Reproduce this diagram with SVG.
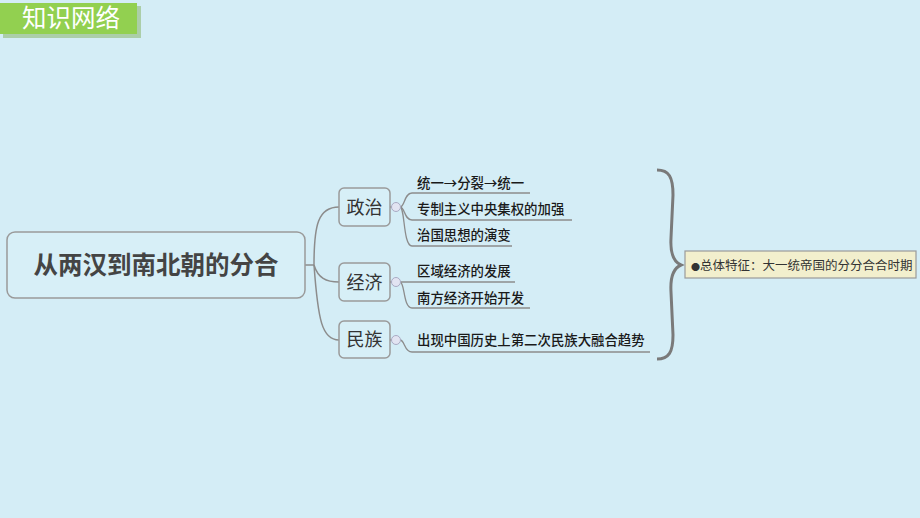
<svg xmlns="http://www.w3.org/2000/svg" width="920" height="518" viewBox="0 0 920 518">
<style>
.bg{fill:#d4edf6}
.box{fill:#d7eff7;stroke:#9a9a9a;stroke-width:1.5}
.conn{fill:none;stroke:#8c8c8c;stroke-width:1.5}
.ul{fill:none;stroke:#8c8c8c;stroke-width:1.3}
.dot{fill:#e2e4f2;stroke:#a9abc4;stroke-width:1}
.cn{font-family:"Noto Sans CJK SC","Noto Sans",sans-serif}
.leaf{font-size:13.4px;fill:#1a1a1a;font-weight:500}
.br{font-size:18px;fill:#333;text-anchor:middle}
</style>
<rect class="bg" x="0" y="0" width="920" height="518"/>
<g id="title">
<rect x="3" y="6" width="138" height="32" fill="#7aa84a" opacity="0.45"/>
<rect x="0" y="3" width="137" height="31" fill="#92d050"/>
<text class="cn" x="71" y="27" font-size="24.5" fill="#ffffff" text-anchor="middle">知识网络</text>
</g>
<g id="connectors">
<path class="conn" d="M305,265 L314,265"/>
<path class="conn" d="M314,265 C314,225 318,207 339,207"/>
<path class="conn" d="M314,265 C318,278 326,282 339,282"/>
<path class="conn" d="M314,265 C318,320 322,340 339,340"/>
<path class="conn" d="M390,207 L392,207"/>
<path class="conn" d="M390,282 L392,282"/>
<path class="conn" d="M390,340 L392,340"/>
<path class="ul" d="M400,207 C405,207 404,193 412,193 L530,193"/>
<path class="ul" d="M400,207 C405,207 404,220 412,220 L572,220"/>
<path class="ul" d="M400,207 C405,207 403,246 412,246 L512,246"/>
<path class="ul" d="M400,282 L515,282"/>
<path class="ul" d="M400,282 C405,282 403,308 412,308 L530,308"/>
<path class="ul" d="M400,340 C405,340 404,352 412,352 L650,352"/>
<path d="M657,170 C669,170 673,177 673,195 L671,238 C670,255 674,262 681,265 C674,268 670,275 671,292 L673,335 C673,352 669,359 657,359" fill="none" stroke="#7a7a7a" stroke-width="3"/>
</g>
<g id="root">
<rect class="box" x="7" y="232" width="298" height="66" rx="8"/>
<text class="cn" x="156" y="274" font-size="24.5" font-weight="bold" fill="#444" text-anchor="middle">从两汉到南北朝的分合</text>
</g>
<g id="zhengzhi">
<rect class="box" x="339" y="188" width="51" height="38" rx="5"/>
<text class="cn br" x="364.5" y="213.5">政治</text>
<circle class="dot" cx="396" cy="207" r="4.5"/>
</g>
<g id="jingji">
<rect class="box" x="339" y="263" width="51" height="38" rx="5"/>
<text class="cn br" x="364.5" y="288.5">经济</text>
<circle class="dot" cx="396" cy="282" r="4.5"/>
</g>
<g id="minzu">
<rect class="box" x="339" y="321" width="51" height="37" rx="5"/>
<text class="cn br" x="364.5" y="346">民族</text>
<circle class="dot" cx="396" cy="340" r="4.5"/>
</g>
<g id="leaf1"><text class="cn leaf" x="417" y="188">统一→分裂→统一</text></g>
<g id="leaf2"><text class="cn leaf" x="417" y="214">专制主义中央集权的加强</text></g>
<g id="leaf3"><text class="cn leaf" x="417" y="240">治国思想的演变</text></g>
<g id="leaf4"><text class="cn leaf" x="417" y="276">区域经济的发展</text></g>
<g id="leaf5"><text class="cn leaf" x="417" y="303">南方经济开始开发</text></g>
<g id="leaf6"><text class="cn leaf" x="417" y="345">出现中国历史上第二次民族大融合趋势</text></g>
<g id="summary">
<rect x="685" y="251" width="231" height="27" fill="#f2efcd" stroke="#9a9a9a" stroke-width="1.2"/>
<text class="cn" x="691" y="269.5" font-size="12.5" fill="#333"><tspan font-size="9">●</tspan>总体特征：大一统帝国的分分合合时期</text>
</g>
</svg>
